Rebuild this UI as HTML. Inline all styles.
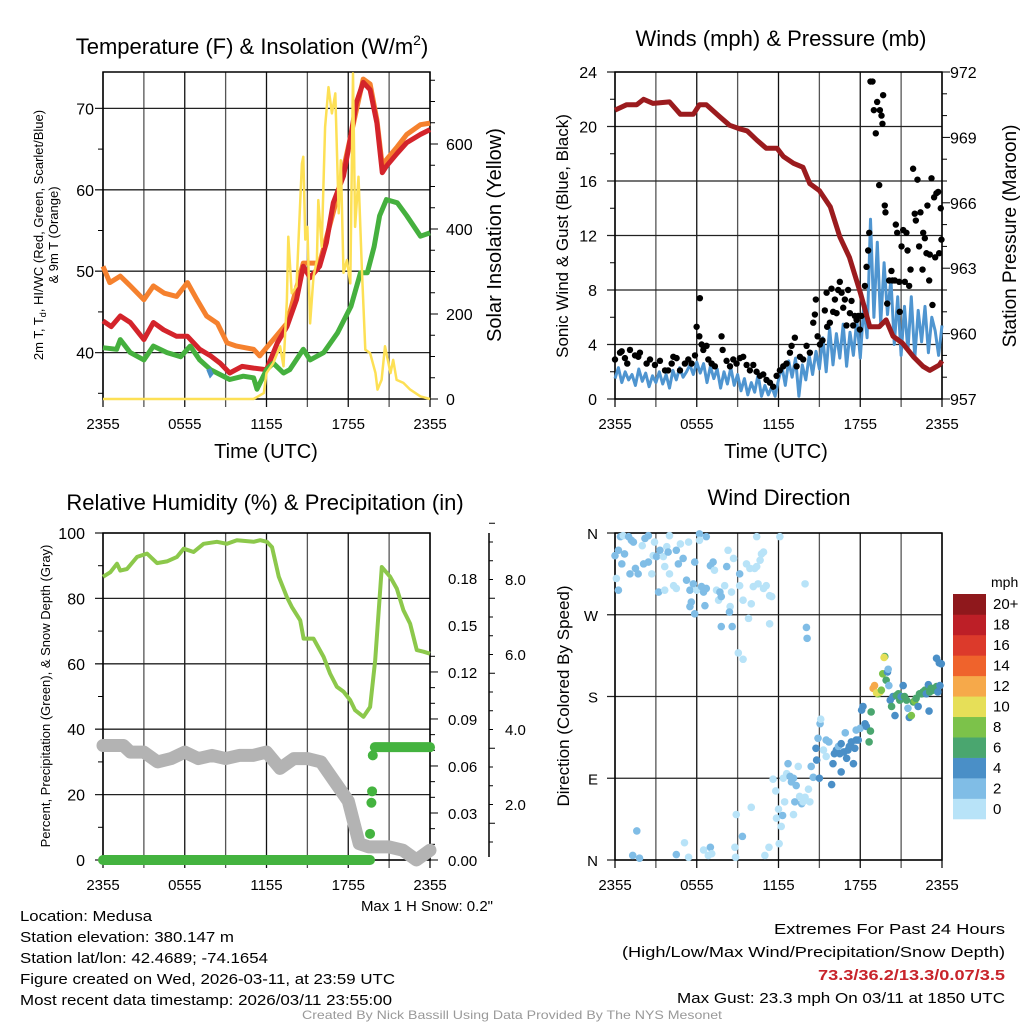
<!DOCTYPE html>
<html><head><meta charset="utf-8"><style>
html,body{margin:0;padding:0;background:#fff;}
svg{display:block;font-family:"Liberation Sans",Arial,sans-serif;}
</style></head><body>
<svg id="c" width="1024" height="1024" viewBox="0 0 1024 1024" xmlns="http://www.w3.org/2000/svg"></svg>
<script>
// ===== Panel 1: Temperature & Insolation =====
const tempT=[0,0.6,1.27,2.0,3.0,3.7,4.45,5.4,6.2,7.1,7.9,8.6,9.3,10.2,11.05,12.0,12.8,13.5,14.2,14.7,15.2,15.9,16.4,16.9,17.65,18.1,18.6,19.1,19.6,20.1,20.5,20.8,21.6,22.3,23.3,24];
const tempV=[43.9,43.2,44.5,43.7,41.6,43.7,42.8,42.0,42.0,40.4,39.6,38.7,37.5,38.3,38.1,37.9,41.2,43.2,46.5,50.6,49.2,50.6,53.5,58.4,61.7,65.8,70.7,73.2,72.3,68.2,62.1,62.9,64.5,65.8,66.8,67.4];
const t9T=[0,0.5,1.27,2.0,3.0,3.7,4.5,5.4,6.2,6.9,7.6,8.4,9.1,9.8,11.05,11.5,12.3,13.5,14.7,15.9,17.15,18.1,19.1,19.6,20.1,20.5,20.8,21.6,22.3,23.3,24];
const t9V=[50.6,48.6,49.4,48.2,46.5,48.2,47.3,46.9,48.6,46.5,44.5,43.6,41.2,40.8,40.4,39.6,41.2,43.6,51.0,51.0,58.8,66.0,73.6,73.0,68.6,62.9,63.7,65.3,66.8,68.0,68.2];
const dewT=[0,1.0,1.27,2.0,3.0,3.7,4.7,5.7,6.4,7.1,7.9,8.6,9.3,10.3,11.05,11.3,12.0,12.5,13.25,13.7,14.7,15.2,16.2,17.2,18.2,18.9,19.4,19.9,20.3,20.8,21.6,22.3,23.3,24];
const dewV=[40.6,40.4,41.6,40.0,39.1,40.8,40.0,39.5,40.8,39.1,37.9,37.3,36.7,37.1,36.9,35.5,37.9,38.7,37.5,37.9,40.4,39.1,40.0,42.4,45.7,49.8,49.8,53.0,56.8,58.8,58.4,56.8,54.3,54.7];
const wcT=[7.75,7.9,8.0];
const wcV=[38.0,37.4,37.6];
const solT=[0,11.05,11.8,12.0,12.5,13.0,13.25,13.5,13.6,13.85,14.2,14.6,14.7,14.85,15.0,15.2,15.45,15.7,15.8,16.05,16.3,16.55,16.8,17.05,17.3,17.45,17.65,17.9,18.15,18.35,18.5,18.75,19.0,19.25,19.6,20.0,20.15,20.45,20.7,21.1,21.3,21.55,22.05,22.55,23.3,24];
const solV=[0,0,14,61,85,124,77,233,382,249,265,554,570,375,405,178,288,327,468,358,640,734,672,719,437,562,297,327,272,766,405,523,304,116,108,61,22,45,124,61,92,45,38,22,6,0];
const tempTicks=[40,50,60,70];
const solTicks=[0,200,400,600];
const timeLabels=["2355","0555","1155","1755","2355"];
// ===== Panel 2: Winds & Pressure =====
const windV=[1.5,2.3,1.2,2.0,1.4,1.8,1.0,2.2,1.3,1.9,0.9,1.7,1.2,
2.0,1.1,1.8,0.8,2.1,1.4,2.3,1.6,2.0,2.5,1.8,2.7,
1.9,2.6,1.2,2.4,1.5,2.2,0.8,2.0,1.1,2.3,1.0,1.8,
0.6,1.5,0.3,1.2,0.5,1.8,0.2,1.0,0.3,0.9,0.2,1.4,
2.4,1.0,2.8,1.6,3.0,0.2,2.5,1.4,3.2,1.8,3.5,2.2,
4.5,2.0,5.2,2.5,4.8,3.0,5.5,2.4,4.9,3.2,5.8,3.0,
6.8,4.5,13.2,6.0,11.5,5.5,10.0,6.2,8.8,4.0,7.5,3.2,
6.8,3.5,7.5,3.0,6.5,4.2,6.8,3.4,6.0,5.0,3.2,5.4];
const gustT=[0,0.37,0.49,0.73,0.9,1.1,1.47,1.71,1.83,2.32,2.57,2.93,3.3,3.67,3.9,4.16,4.28,4.52,4.77,5.13,5.38,5.62,5.87,5.99,6.19,6.23,6.36,6.48,6.72,6.85,7.09,7.33,7.82,7.9,8.19,8.44,8.68,8.92,9.17,9.41,9.66,9.9,10.15,10.39,10.64,10.88,11.12,11.37,11.61,11.86,12.1,12.35,12.59,12.84,12.96,13.2,13.33,13.57,13.81,14.06,14.3,14.55,14.67,14.74,14.87,15.04,15.23,15.4,15.53,15.57,15.77,15.89,16.01,16.14,16.26,16.38,16.5,16.63,16.75,16.87,16.99,17.11,17.24,17.36,17.48,17.6,17.73,17.85,17.97,18.09,18.34,18.46,18.58,18.66,18.75,18.9,19.0,19.14,19.24,19.39,19.44,19.56,19.63,19.68,19.8,19.85,19.98,20.12,20.29,20.37,20.54,20.61,20.71,20.86,20.9,21.03,21.15,21.27,21.39,21.47,21.59,21.69,21.88,22.0,22.08,22.2,22.32,22.42,22.57,22.62,22.74,22.86,22.93,23.06,23.1,23.23,23.3,23.42,23.5,23.59,23.72,23.79,23.91,23.96];
const gustV=[2.9,3.4,3.5,3.0,2.6,3.6,3.2,3.1,3.4,2.6,2.9,2.5,2.8,2.1,2.1,2.6,3.1,3.0,2.1,2.6,2.9,2.6,3.2,5.3,4.6,7.4,4.0,3.6,3.9,2.9,2.6,2.4,4.6,3.6,2.8,2.4,2.9,2.6,3.0,3.1,2.5,2.1,2.5,2.0,1.7,1.8,1.4,1.2,0.9,1.7,2.1,2.4,2.6,3.4,3.9,4.5,2.4,3.1,2.9,3.9,3.4,5.6,6.2,7.3,4.6,4.0,4.3,6.5,7.8,5.3,5.6,8.1,6.4,7.3,6.3,8.0,8.6,7.8,6.7,7.3,5.4,8.0,6.3,7.2,5.4,6.1,5.8,6.1,5.1,6.1,8.3,9.7,10.9,12.2,23.3,23.3,21.2,19.5,21.8,15.7,21.2,20.8,20.2,22.3,14.2,13.7,7.0,8.7,9.4,8.7,8.7,12.8,12.2,8.6,6.4,11.2,12.4,8.6,12.2,10.9,8.3,9.5,16.9,13.6,13.1,16.1,11.2,13.7,9.5,12.2,11.8,10.7,14.2,8.7,10.6,16.2,6.9,14.8,10.4,15.1,15.2,10.7,14.0,11.7];
const presT=[0,0.86,1.6,2.1,2.8,4.0,4.8,5.75,6.2,6.7,7.7,8.4,9.2,9.7,10.4,11.1,11.9,12.35,13.1,13.8,14.3,15.0,15.8,16.5,17.2,18.0,18.7,19.4,19.9,20.4,21.1,21.9,22.6,23.1,23.8,24];
const presV=[970.25,970.5,970.5,970.75,970.56,970.63,970.06,970.06,970.5,970.5,969.94,969.56,969.38,969.3,968.88,968.5,968.5,968.13,967.81,967.63,966.88,966.56,965.81,964.44,963.5,961.88,960.31,960.31,960.63,959.88,959.56,958.94,958.5,958.31,958.56,958.75];
const windTicks=[0,4,8,12,16,20,24];
const presTicks=[957,960,963,966,969,972];
// ===== Panel 3: RH & Precip =====
const rhT=[0,0.54,1.03,1.27,1.76,2.5,3.23,3.96,4.69,5.43,5.92,6.65,7.38,8.36,9.1,9.83,11.05,11.54,12.03,12.4,12.9,13.5,13.86,14.47,14.72,15.45,16.19,16.67,17.16,17.65,18.14,18.5,19.12,19.6,19.98,20.46,21.08,21.56,22.05,22.54,23.03,23.52,24];
const rhV=[86.6,88,90.6,88.5,89,92.7,93.7,90.8,91.3,92.7,95.2,94.2,96.7,97.3,96.7,97.8,97.3,97.8,97.3,95.7,86.6,80.4,77.4,73.3,67.7,67.7,62.1,57.0,53.0,51.5,48.9,45.8,43.8,46.8,61.1,89.6,86.6,83.0,76.4,72.3,64.2,63.7,63.1];
const snowT=[0,1.5,2.0,3.0,4.0,5.0,6.0,7.0,8.0,9.0,10.0,11.0,12.0,13.0,14.0,15.0,16.0,17.0,18.0,18.8,19.5,21.0,22.0,23.0,24];
const snowV=[35,35,33,33,30,31,33,31,32,31,32,32,33,28,31,31,30,24,18,5,4,4,3,0,3];
const precipDotT=[19.6,19.7,19.75,19.8];
const precipDotV=[8,17.5,21,32];
const precipStepV=[0,34.5];
const rhTicks=[0,20,40,60,80,100];
const precipTicks=["0.00","0.03","0.06","0.09","0.12","0.15","0.18"];
const snowTicks=["2.0","4.0","6.0","8.0"];
// ===== Panel 4: Wind Direction =====
const dirT=[0,0.25,0.4,0.6,0.7,0.5,0.1,0.25,1.0,1.2,1.35,1.1,1.5,1.7,2.0,2.2,2.45,2.1,2.45,2.7,2.8,2.9,3.05,3.3,3.55,3.65,3.8,3.9,4.0,4.0,4.3,4.5,4.65,4.8,5.0,5.25,5.4,3.2,3.65,4.5,5.5,5.75,5.85,6.0,6.2,6.2,6.35,6.7,6.5,6.7,5.6,5.5,5.85,6.6,7.0,7.2,7.3,7.45,7.6,7.7,7.8,8.05,8.2,8.3,8.45,8.55,8.7,8.4,9.15,9.15,9.4,9.65,9.9,10.0,10.15,10.25,10.4,10.4,10.65,10.75,10.9,10.5,10.9,11.1,11.35,11.5,12.1,13.95,9.8,11.35,7.8,8.6,14.05,14.1,9.05,9.4,
1.6,1.3,1.8,4.5,5.1,5.4,6.5,7.0,6.85,7.1,8.8,8.85,8.9,9.35,10.0,11.0,11.3,12.05,11.85,12.0,12.2,12.3,11.6,11.8,12.35,12.45,12.6,12.7,12.85,12.95,13.1,13.1,13.2,13.3,13.45,13.55,13.7,13.8,13.95,14.2,14.3,14.4,14.55,14.8,15.0,14.9,15.05,15.1,14.75,15.3,15.5,15.5,15.7,15.9,16.0,16.1,16.25,16.4,16.5,16.6,16.6,16.8,16.9,17.0,17.1,17.2,17.35,17.5,17.6,17.7,17.7,17.85,18.0,18.1,18.2,18.35,18.45,18.65,18.75,18.8,18.95,19.05,19.3,19.2,19.45,19.55,19.65,19.8,19.75,19.9,20.0,20.05,20.1,20.2,20.3,20.4,20.55,20.65,20.8,20.9,21.0,21.15,21.25,21.4,21.5,21.6,21.75,21.9,22.0,22.1,22.25,22.35,22.5,22.6,22.75,22.85,23.0,23.05,23.1,23.2,23.35,23.45,23.6,23.7,23.85,23.6,23.8,23.95];
const dirDeg=[335,341,356,357,337,326,310,297,356,352,350,315,321,315,346,354,357,326,328,315,335,350,334,341,334,323,345,339,357,315,302,341,326,348,332,308,350,295,297,299,297,304,328,297,359,352,301,356,295,299,284,279,271,280,324,328,319,297,286,295,290,302,323,341,279,295,332,273,315,302,286,326,321,282,301,321,356,323,330,337,339,304,299,302,291,290,356,304,266,260,257,257,256,244,228,221,
32,5,2,6,19,3,11,14,5,7,14,3,50,26,58,5,14,18,46,56,37,49,89,76,90,64,95,106,92,86,90,50,64,82,103,70,62,64,69,78,64,103,91,110,90,134,150,155,123,121,114,132,130,83,106,117,121,125,117,128,97,119,140,112,121,125,130,106,123,132,143,132,145,165,169,150,147,130,142,163,189,192,183,184,185,187,205,224,223,198,207,210,192,176,169,180,159,181,183,176,180,192,180,176,167,157,159,174,175,178,169,183,183,185,187,183,193,164,185,189,187,189,191,185,192,222,217,216];
const dirSpd=[2,2,2,0.5,2,2,0.5,2,2,2,2,2,2,2,0.5,2,2,2,2,0.5,0.5,0.5,2,2,0.5,0.5,0.5,2,0.5,0.5,0.5,2,2,0.5,2,2,0.5,2,0.5,0.5,2,2,2,0.5,2,0.5,2,2,2,2,2,2,2,2,2,2,0.5,0.5,0.5,2,2,0.5,2,0.5,0.5,0.5,0.5,2,2,0.5,0.5,0.5,0.5,0.5,0.5,0.5,0.5,0.5,0.5,0.5,0.5,0.5,0.5,0.5,0.5,0.5,0.5,0.5,0.5,0.5,2,2,2,2,0.5,0.5,
2,2,2,2,0.5,0.5,0.5,2,0.5,0.5,0.5,0.5,0.5,2,0.5,0.5,0.5,0.5,0.5,0.5,0.5,2,0.5,0.5,0.5,0.5,0.5,2,2,2,2,0.5,2,2,0.5,0.5,2,0.5,0.5,0.5,0.5,2,2,4,4,2,2,0.5,4,0.5,0.5,2,2,4,4,4,4,2,4,4,4,4,2,4,4,4,4,4,4,4,2,4,2,4,4,4,4,6,6,6,12,12,8,10,10,8,8,6,10,6,4,2,2,4,6,4,4,6,6,6,4,4,6,6,2,4,8,6,8,6,4,6,6,6,6,4,4,4,6,6,6,6,6,4,4,4,4,4];
const speedBins=[0,2,4,6,8,10,12,14,16,18,20];
const speedLabels=["0","2","4","6","8","10","12","14","16","18","20+"];
const speedColors=["#b8e3f8","#80bde6","#4a8fc7","#4aa66f","#7cc24a","#e6df58","#f6a94a","#ef632c","#dc3a2b","#bd1f27","#8f181c"];
const dirLabels=["N","E","S","W","N"];

// ===== drawing =====
const NS="http://www.w3.org/2000/svg";
const svg=document.getElementById('c');
function el(tag,attrs,parent){const e=document.createElementNS(NS,tag);for(const k in attrs)e.setAttribute(k,attrs[k]);(parent||svg).appendChild(e);return e;}
function txt(s,x,y,size,anchor,parent,extra){const e=el('text',Object.assign({x:x,y:y,'font-size':size,'text-anchor':anchor||'start',fill:'#000'},extra||{}),parent);e.textContent=s;return e;}
function poly(xs,ys,fx,fy){return xs.map((t,i)=>fx(t).toFixed(1)+','+fy(ys[i]).toFixed(1)).join(' ');}

const P1={x0:103,x1:430,y0:72,y1:399};
const P2={x0:615,x1:942,y0:72,y1:399};
const P3={x0:103,x1:430,y0:533,y1:860};
const P4={x0:615,x1:942,y0:533,y1:860};
function xs(P){return t=>P.x0+t*(P.x1-P.x0)/24;}

function frame(P,g,hLines){
  for(let i=0;i<=8;i++){const x=P.x0+i*(P.x1-P.x0)/8;
    const l=el('line',{x1:x,y1:P.y0,x2:x,y2:P.y1+8,stroke:i%2?'#555':'#111','stroke-width':1.3},g);
    }
  hLines.forEach(y=>{const l=el('line',{x1:P.x0-8,y1:y,x2:P.x1,y2:y,stroke:'#222','stroke-width':1.3},g);
    });
  const r=el('rect',{x:P.x0,y:P.y0,width:P.x1-P.x0,height:P.y1-P.y0,fill:'none',stroke:'#000','stroke-width':1.5},g);
  
}
function xLabels(P,g,y){timeLabels.forEach((s,i)=>{const t=txt(s,P.x0+i*(P.x1-P.x0)/4,y,15,'middle',g);
  });}

// ---------- Panel 1 ----------
{
 const g=el('g',{});
 const X=xs(P1);const Y=v=>399-(v-34.3)*8.14;const YS=w=>399-w*0.425;
 frame(P1,g,tempTicks.map(Y));
 [35,45,55,65].forEach(v=>el('line',{x1:P1.x0-5,y1:Y(v),x2:P1.x0,y2:Y(v),stroke:'#000'},g));
 for(let w=0;w<=750;w+=50){el('line',{x1:P1.x1,y1:YS(w),x2:P1.x1+(w%200==0?8:5),y2:YS(w),stroke:'#000'},g);}
 tempTicks.forEach(v=>{const t=txt(String(v),94,Y(v)+6,16,'end',g);});
 solTicks.forEach(v=>{const t=txt(String(v),446,YS(v)+6,16,'start',g);});
 const s1=el('polyline',{points:poly(t9T,t9V,X,Y),fill:'none',stroke:'#f5812e','stroke-width':5,'stroke-linejoin':'round'},g);
 
 const s2=el('polyline',{points:poly(tempT,tempV,X,Y),fill:'none',stroke:'#d4242b','stroke-width':5,'stroke-linejoin':'round'},g);
 
 const s3=el('polyline',{points:poly(dewT,dewV,X,Y),fill:'none',stroke:'#45b03e','stroke-width':5,'stroke-linejoin':'round'},g);
 
 const s4=el('polyline',{points:poly(wcT,wcV,X,Y),fill:'none',stroke:'#4a8fc7','stroke-width':5},g);
 
 const s5=el('polyline',{points:poly(solT,solV,X,YS),fill:'none',stroke:'#fde055','stroke-width':2.5,'stroke-linejoin':'round'},g);
 
 xLabels(P1,g,429);
 const tt=txt('Temperature (F) & Insolation (W/m',252,54,22,'middle',g);
 const sup=el('tspan',{dy:-9,'font-size':14},tt);sup.textContent='2';
 const cl=el('tspan',{dy:9},tt);cl.textContent=')';
 
 const xt=txt('Time (UTC)',266,458,20,'middle',g);
 const yl=el('text',{transform:'translate(43,235) rotate(-90)','font-size':13,'text-anchor':'middle'},g);
 
 const a=el('tspan',{x:0,y:0},yl);a.textContent='2m T, T';const sb=el('tspan',{dy:3,'font-size':9},yl);sb.textContent='d';
 const b=el('tspan',{dy:-3},yl);b.textContent=', HI/WC (Red, Green, Scarlet/Blue)';
 const c=el('tspan',{x:0,y:15},yl);c.textContent='& 9m T (Orange)';
 const yr=el('text',{transform:'translate(501,235) rotate(-90)','font-size':20,'text-anchor':'middle'},g);yr.textContent='Solar Insolation (Yellow)';
 
}
// ---------- Panel 2 ----------
{
 const g=el('g',{});
 const X=xs(P2);const Y=v=>399-v*327/24;const YP=p=>399-(p-957)*327/15;
 frame(P2,g,windTicks.map(Y));
 for(let p=957;p<=972;p+=1){el('line',{x1:P2.x1,y1:YP(p),x2:P2.x1+((p-957)%3==0?8:5),y2:YP(p),stroke:'#000'},g);}
 for(let v=2;v<24;v+=4){el('line',{x1:P2.x0-5,y1:Y(v),x2:P2.x0,y2:Y(v),stroke:'#000'},g);}
 windTicks.forEach(v=>{const t=txt(String(v),597,Y(v)+6,16,'end',g);});
 presTicks.forEach(v=>{const t=txt(String(v),950,YP(v)+6,16,'start',g);});
 const wT=windV.map((v,i)=>i*0.25);
 const wl=el('polyline',{points:poly(wT,windV,X,Y),fill:'none',stroke:'#4f95d0','stroke-width':3,'stroke-linejoin':'round'},g);
 
 gustT.forEach((t,i)=>{const d=el('circle',{cx:X(t),cy:Y(gustV[i]),r:3.2,fill:'#000'},g);
  });
 const pl=el('polyline',{points:poly(presT,presV,X,YP),fill:'none',stroke:'#9b1b1e','stroke-width':5,'stroke-linejoin':'round'},g);
 
 xLabels(P2,g,429);
 const tt=txt('Winds (mph) & Pressure (mb)',781,46,22,'middle',g);
 const xt=txt('Time (UTC)',776,458,20,'middle',g);
 const yl=el('text',{transform:'translate(568,236) rotate(-90)','font-size':17,'text-anchor':'middle'},g);yl.textContent='Sonic Wind & Gust (Blue, Black)';
 
 const yr=el('text',{transform:'translate(1016,236) rotate(-90)','font-size':19,'text-anchor':'middle'},g);yr.textContent='Station Pressure (Maroon)';
 
}
// ---------- Panel 3 ----------
{
 const g=el('g',{});
 const X=xs(P3);const Y=v=>860-v*3.27;
 frame(P3,g,rhTicks.map(Y));
 for(let v=10;v<100;v+=20){el('line',{x1:P3.x0-5,y1:Y(v),x2:P3.x0,y2:Y(v),stroke:'#000'},g);}
 rhTicks.forEach(v=>{const t=txt(String(v),85,Y(v)+6,16,'end',g);});
 const pY=i=>860-i*47.0;
 for(let k=0;k<=13;k++){const yy=860-k*15.67;el('line',{x1:P3.x1,y1:yy,x2:P3.x1+(k%3==0?8:5),y2:yy,stroke:'#000'},g);}
 precipTicks.forEach((s,i)=>{const t=txt(s,448,pY(i)+6,15,'start',g);});
 const sa=el('line',{x1:489,y1:533,x2:489,y2:857,stroke:'#000','stroke-width':1.5},g);
 
 for(let k=0;k<=17;k++){const yy=842-k*18.75;el('line',{x1:489,y1:yy,x2:489+(k%4==1?6:4),y2:yy,stroke:'#000'},g);}
 snowTicks.forEach((s,i)=>{const t=txt(s,505,804-i*75+6,15,'start',g);});
 const sl=el('polyline',{points:poly(snowT,snowV,X,Y),fill:'none',stroke:'#b3b3b3','stroke-width':13,'stroke-linejoin':'round','stroke-linecap':'round'},g);
 
 const rl=el('polyline',{points:poly(rhT,rhV,X,Y),fill:'none',stroke:'#8cc84b','stroke-width':4,'stroke-linejoin':'round'},g);
 
 const p0=el('line',{x1:X(0),y1:Y(precipStepV[0]),x2:X(19.6),y2:Y(precipStepV[0]),stroke:'#44b33f','stroke-width':10,'stroke-linecap':'round'},g);
 
 const p1=el('line',{x1:X(19.95),y1:Y(precipStepV[1]),x2:X(24),y2:Y(precipStepV[1]),stroke:'#44b33f','stroke-width':10,'stroke-linecap':'round'},g);
 
 precipDotT.forEach((t,i)=>{const d=el('circle',{cx:X(t),cy:Y(precipDotV[i]),r:5,fill:'#44b33f'},g);
  });
 xLabels(P3,g,890);
 const tt=txt('Relative Humidity (%) & Precipitation (in)',265,510,22,'middle',g);
 const ms=txt('Max 1 H Snow: 0.2"',493,911,15,'end',g);
 const yl=el('text',{transform:'translate(50,696) rotate(-90)','font-size':13,'text-anchor':'middle'},g);yl.textContent='Percent, Precipitation (Green), & Snow Depth (Gray)';
 
}
// ---------- Panel 4 ----------
{
 const g=el('g',{});
 const X=xs(P4);const Y=d=>860-d*327/360;
 frame(P4,g,[0,90,180,270,360].map(Y));
 [0,90,180,270,360].forEach((d,i)=>{const t=txt(dirLabels[i],598,Y(d)+6,15,'end',g);});
 function col(s){let k=0;for(let i=0;i<speedBins.length;i++){if(s>=speedBins[i]-1)k=i;}return speedColors[k];}
 dirT.forEach((t,i)=>{const d=el('circle',{cx:X(t),cy:Y(dirDeg[i]),r:3.8,fill:col(dirSpd[i])},g);
  });
 xLabels(P4,g,890);
 const tt=txt('Wind Direction',779,505,22,'middle',g);
 const yl=el('text',{transform:'translate(569,696) rotate(-90)','font-size':17,'text-anchor':'middle'},g);yl.textContent='Direction (Colored By Speed)';
 
 const cb=el('g',{},g);
 const bh=(819-594)/11;
 speedColors.forEach((c,i)=>{const k=10-i;const r=el('rect',{x:953,y:594+k*bh,width:33,height:bh+0.3,fill:c},cb);
  
  const t=txt(speedLabels[i],993,594+k*bh+bh/2+5,15,'start',cb);});
 const m=txt('mph',991,587,14,'start',cb);
}
// ---------- Footer ----------
{
 const g=el('g',{});
 const L=[['Location: Medusa',921,132],['Station elevation: 380.147 m',942,214],['Station lat/lon: 42.4689; -74.1654',963,248],['Figure created on Wed, 2026-03-11, at 23:59 UTC',984,375],['Most recent data timestamp: 2026/03/11 23:55:00',1005,372]];
 L.forEach(a=>{const t=txt(a[0],20,a[1],15,'start',g,{textLength:a[2],lengthAdjust:'spacingAndGlyphs'});});
 const R=[['Extremes For Past 24 Hours',934,231,'#000',false],['(High/Low/Max Wind/Precipitation/Snow Depth)',957,383,'#000',false],['73.3/36.2/13.3/0.07/3.5',980,187,'#c8242b',true],['Max Gust: 23.3 mph On 03/11 at 1850 UTC',1003,328,'#000',false]];
 R.forEach(a=>{const t=txt(a[0],1005,a[1],15,'end',g,{textLength:a[2],lengthAdjust:'spacingAndGlyphs',fill:a[3],'font-weight':a[4]?'bold':'normal'});});
 const cr=txt('Created By Nick Bassill Using Data Provided By The NYS Mesonet',512,1019,12,'middle',g,{fill:'#999',textLength:420,lengthAdjust:'spacingAndGlyphs'});
 
}
</script>
</body></html>
